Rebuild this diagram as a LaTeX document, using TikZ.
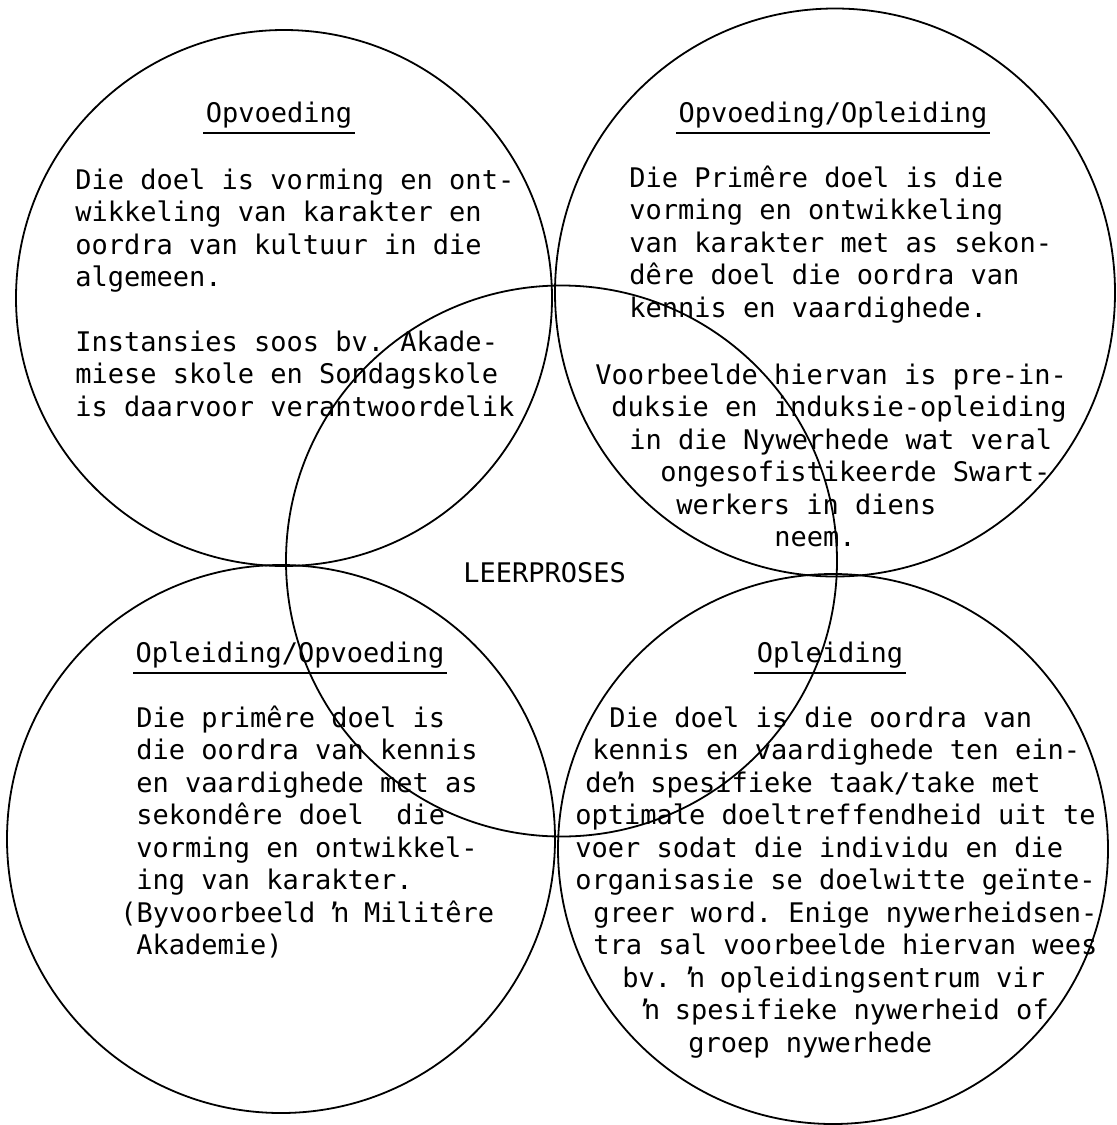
\documentclass[tikz,border=0pt]{standalone}
\usepackage{fontspec}
\setmonofont{DejaVu Sans Mono}
\begin{document}
\begin{tikzpicture}[x=0.5pt,y=-0.5pt,
  ring/.style={line width=0.9pt},
  txt/.style={anchor=base west,inner sep=0pt,font=\ttfamily\fontsize{13.5}{16}\selectfont},
  head/.style={txt,anchor=base},
  uline/.style={line width=1pt}]
\useasboundingbox (0,0) rectangle (1116,1125);
% die vyf sirkels
\draw[ring] (284,298) circle (134pt);
\draw[ring] (835,292.5) ellipse [x radius=140pt,y radius=142pt];
\draw[ring] (561.5,561) circle (137.75pt);
\draw[ring] (281,839) circle (137pt);
\draw[ring] (833,849) circle (137.5pt);

% Opvoeding
\node[head] (tlh) at (279,122) {Opvoeding};
\node[txt] (tl1) at (75,189) {Die doel is vorming en ont-};
\node[txt] (tl2) at (75,221.5) {wikkeling van karakter en};
\node[txt] (tl3) at (75,254) {oordra van kultuur in die};
\node[txt] (tl4) at (75,286.5) {algemeen.};
\node[txt] (tl5) at (75,351) {Instansies soos bv. Akade-};
\node[txt] (tl6) at (75,383.5) {miese skole en Sondagskole};
\node[txt] (tl7) at (75,416) {is daarvoor verantwoordelik};

% Opvoeding/Opleiding
\node[head] (trh) at (833,122) {Opvoeding/Opleiding};
\node[txt] (tr1) at (629,187) {Die Primêre doel is die};
\node[txt] (tr2) at (629,219.5) {vorming en ontwikkeling};
\node[txt] (tr3) at (629,252) {van karakter met as sekon-};
\node[txt] (tr4) at (629,284.5) {dêre doel die oordra van};
\node[txt] (tr5) at (629,317) {kennis en vaardighede.};
\node[txt] (tr6) at (595,384) {Voorbeelde hiervan is pre-in-};
\node[txt] (tr7) at (611,416.5) {duksie en induksie-opleiding};
\node[txt] (tr8) at (629,449) {in die Nywerhede wat veral};
\node[txt] (tr9) at (660,481.5) {ongesofistikeerde Swart-};
\node[txt] (tr10) at (676,514) {werkers in diens};
\node[txt] (tr11) at (774,546.5) {neem.};

\node[txt] (leer) at (463,582) {LEERPROSES};

% Opleiding/Opvoeding
\node[head] (blh) at (290,662) {Opleiding/Opvoeding};
\node[txt] (bl1) at (136,727) {Die primêre doel is};
\node[txt] (bl2) at (136,759.5) {die oordra van kennis};
\node[txt] (bl3) at (136,792) {en vaardighede met as};
\node[txt] (bl4) at (136,824.5) {sekondêre doel\ \ die};
\node[txt] (bl5) at (136,857) {vorming en ontwikkel-};
\node[txt] (bl6) at (136,889.5) {ing van karakter.};
\node[txt] (bl7) at (120,922) {(Byvoorbeeld ŉ Militêre};
\node[txt] (bl8) at (136,954.5) {Akademie)};

% Opleiding
\node[head] (brh) at (830,662) {Opleiding};
\node[txt] (br1) at (609,727) {Die doel is die oordra van};
\node[txt] (br2) at (592,759.5) {kennis en vaardighede ten ein-};
\node[txt] (br3) at (585,792) {deŉ spesifieke taak/take met};
\node[txt] (br4) at (575,824.5) {optimale doeltreffendheid uit te};
\node[txt] (br5) at (575,857) {voer sodat die individu en die};
\node[txt] (br6) at (575,889.5) {organisasie se doelwitte geïnte-};
\node[txt] (br7) at (593,922) {greer word. Enige nywerheidsen-};
\node[txt] (br8) at (593,954.5) {tra sal voorbeelde hiervan wees};
\node[txt] (br9) at (622,987) {bv. ŉ opleidingsentrum vir};
\node[txt] (br10) at (642,1019.5) {ŉ spesifieke nywerheid of};
\node[txt] (br11) at (688,1052) {groep nywerhede};

% onderstreep
\foreach \h in {tlh,trh,blh,brh}
  \draw[uline] ([xshift=-1pt,yshift=-5.5pt]\h.base west) -- ([xshift=1pt,yshift=-5.5pt]\h.base east);
\end{tikzpicture}
\end{document}
